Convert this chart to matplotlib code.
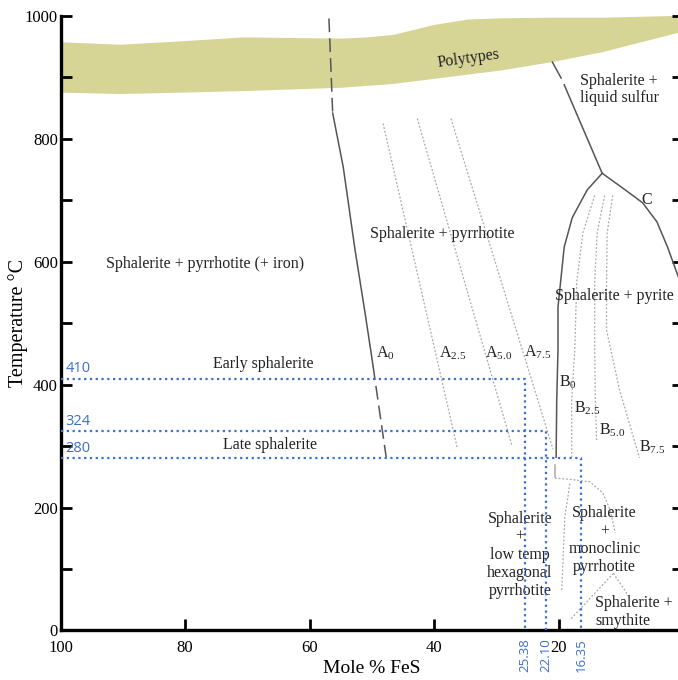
import matplotlib
matplotlib.use("Agg")
import matplotlib.pyplot as plt
import matplotlib.transforms as mtransforms
import numpy as np

plt.rcParams['font.family'] = ['Liberation Serif', 'DejaVu Serif']
plt.rcParams['mathtext.fontset'] = 'custom'
plt.rcParams['mathtext.rm'] = 'Liberation Serif'
plt.rcParams['mathtext.it'] = 'Liberation Serif:italic'

# polytypes band (Mole % FeS, temperature)
poly_top_x = [100, 90.5, 80, 70.7, 55, 50.8, 46.6, 40.2, 34.7, 29.4, 21, 13, 1, 0]
poly_top_t = [958, 954, 960, 966, 964, 966, 970, 986, 995, 997, 998, 998, 1001, 1002]
poly_bot_x = [100, 94, 72, 61.5, 55, 45.5, 39, 29.4, 21, 13, 7, 1, 0]
poly_bot_t = [876, 873, 878, 883, 884, 891, 900, 912, 926, 942, 955, 973, 975]

# A0 boundary
a0_x = [56.9, 56.3, 54.6, 52.7, 51.1, 49.8, 49.5, 48.4, 47.7]
a0_t = [996, 842, 754, 619, 517, 430, 408, 331, 282]

# isopleths in the sphalerite + pyrrhotite field
a25_x, a25_t = [48.2, 36.3], [825, 298]
a50_x, a50_t = [42.7, 27.5], [833, 301]
a75_x, a75_t = [37.3, 20.9], [833, 295]

# sphalerite + liquid sulfur boundary and the pyrite field
ls_x = [21.0, 19.6, 19.1, 13.0]
ls_t = [925, 899, 888, 744]
pyl_x = [13.0, 15.4, 17.8, 19.1, 19.6, 20.1, 20.1, 20.3, 20.4]
pyl_t = [744, 717, 672, 624, 575, 526, 456, 375, 282]
pyl_tail_x, pyl_tail_t = [20.5, 20.5], [270, 250]
c_x = [13.0, 9.7, 6.5, 4.2, 2.5, 1.0, -0.5]
c_t = [744, 720, 696, 665, 624, 582, 540]

b0_x = [14.2, 16.1, 17.1, 17.4, 17.9, 17.9]
b0_t = [708, 647, 566, 456, 375, 282]
b25_x = [12.6, 13.8, 14.2, 14.2, 14.1, 13.9]
b25_t = [708, 647, 566, 456, 375, 310]
b75_x = [11.3, 12.2, 12.3, 12.3, 10.2, 7.0]
b75_t = [708, 647, 566, 489, 391, 281]

# low temperature fields
dome_x = [20.6, 18.2, 15.0, 12.9, 11.7, 10.9]
dome_t = [248, 246, 242, 224, 196, 159]
mono_x = [18.2, 19.0, 19.5]
mono_t = [239, 184, 65]
smy1_x, smy1_t = [11.2, 18.2], [93, 17]
smy2_x, smy2_t = [11.2, 9.0], [93, 60]

# measured temperatures and compositions
temps = [410, 324, 280]
fes = [25.38, 22.10, 16.35]

blue = '#3c6ed2'
grey = '#555555'
light = '#a8a8a8'
txt = '#222222'

fig = plt.figure(figsize=(6.78, 6.8), dpi=100)
ax = fig.add_axes([0.0895, 0.0728, 0.918, 0.9037])
ax.set_xlim(100, 0)
ax.set_ylim(0, 1000)

# bottom edge of the band resampled on the top edge's x values
bot_on_top = np.interp(poly_top_x[::-1], poly_bot_x[::-1], poly_bot_t[::-1])[::-1]
ax.fill_between(poly_top_x, poly_top_t, bot_on_top, color='#d6d596', lw=0, zorder=1)
ax.text(34.5, 930, 'Polytypes', fontsize=11.5, rotation=8, ha='center', va='center', color=txt, zorder=3)

# A0 boundary: dashed at the ends, solid in between
ax.plot(a0_x[:2], a0_t[:2], color=grey, lw=1.1, dashes=(9, 4))
ax.plot(a0_x[1:6], a0_t[1:6], color=grey, lw=1.1)
ax.plot(a0_x[5:], a0_t[5:], color=grey, lw=1.1, dashes=(9, 4))

for xs, ts in [(a25_x, a25_t), (a50_x, a50_t), (a75_x, a75_t),
               (b0_x, b0_t), (b25_x, b25_t), (b75_x, b75_t),
               (dome_x, dome_t), (mono_x, mono_t), (smy1_x, smy1_t), (smy2_x, smy2_t)]:
    ax.plot(xs, ts, color=light, lw=0.9, ls=(0, (1.5, 1.5)))

ax.plot(ls_x[:2], ls_t[:2], color=grey, lw=1.1)
ax.plot(ls_x[2:], ls_t[2:], color=grey, lw=1.1)
ax.plot(pyl_x, pyl_t, color=grey, lw=1.1)
ax.plot(pyl_tail_x, pyl_tail_t, color=light, lw=1.1)
ax.plot(c_x, c_t, color=grey, lw=1.1)

# blue guide lines
for t, f in zip(temps, fes):
    ax.plot([100, f, f], [t, t, 0], color=blue, lw=1.6, ls=(0, (1, 1.6)), zorder=4)
    ax.text(99.2, t + 4, str(t), color=blue, fontsize=10.5, family='Open Sans', ha='left', va='bottom')
trans = mtransforms.blended_transform_factory(ax.transData, ax.transAxes)
for f in fes:
    ax.text(f, -0.012, f'{f:.2f}', transform=trans, rotation=90, color=blue, fontsize=9.5,
            family='Open Sans', ha='center', va='top')

# field labels
kw = dict(fontsize=11.5, color=txt, ha='center', va='center')
ax.text(76.8, 596, 'Sphalerite + pyrrhotite (+ iron)', **kw)
ax.text(38.7, 646, 'Sphalerite + pyrrhotite', **kw)
ax.text(16.5, 880, 'Sphalerite +\nliquid sulfur', fontsize=11.5, color=txt, ha='left', va='center', linespacing=1.1)
ax.text(11.1, 544, 'Sphalerite + pyrite', **kw)
ax.text(5.8, 700, 'C', **kw)
ax.text(67.5, 434, 'Early sphalerite', **kw)
ax.text(66.4, 302, 'Late sphalerite', **kw)
ax.text(26.2, 123, 'Sphalerite\n+\nlow temp\nhexagonal\npyrrhotite', linespacing=1.15, **kw)
ax.text(12.6, 147, 'Sphalerite\n+\nmonoclinic\npyrrhotite', linespacing=1.15, **kw)
ax.text(14.1, 30, 'Sphalerite +\nsmythite', fontsize=11.5, color=txt, ha='left', va='center', linespacing=1.1)

sub = dict(fontsize=11.5, color=txt, ha='center', va='center')
ax.text(47.9, 451, r'A$_{\mathrm{0}}$', **sub)
ax.text(37.1, 451, r'A$_{\mathrm{2.5}}$', **sub)
ax.text(29.7, 451, r'A$_{\mathrm{5.0}}$', **sub)
ax.text(23.4, 453, r'A$_{\mathrm{7.5}}$', **sub)
ax.text(18.5, 404, r'B$_{\mathrm{0}}$', **sub)
ax.text(15.4, 362, r'B$_{\mathrm{2.5}}$', **sub)
ax.text(11.4, 326, r'B$_{\mathrm{5.0}}$', **sub)
ax.text(4.9, 298, r'B$_{\mathrm{7.5}}$', **sub)

# axes styling
ax.set_xticks([100, 80, 60, 40, 20, 0])
ax.set_yticks(range(0, 1001, 200))
ax.set_yticks(range(100, 1000, 200), minor=True)
ax.tick_params(which='both', direction='in', length=8, width=2, labelsize=12, right=True, top=False)
ax.tick_params(axis='x', pad=7)
ax.tick_params(axis='y', pad=2)
for s in ['top', 'right']:
    ax.spines[s].set_visible(False)
for s in ['left', 'bottom']:
    ax.spines[s].set_linewidth(2.4)
ax.set_xlabel('Mole % FeS', fontsize=14, labelpad=3)
ax.set_ylabel('Temperature °C', fontsize=14.5)
ax.yaxis.set_label_coords(-0.052, 0.5)

fig.savefig('out.png', dpi=100)
